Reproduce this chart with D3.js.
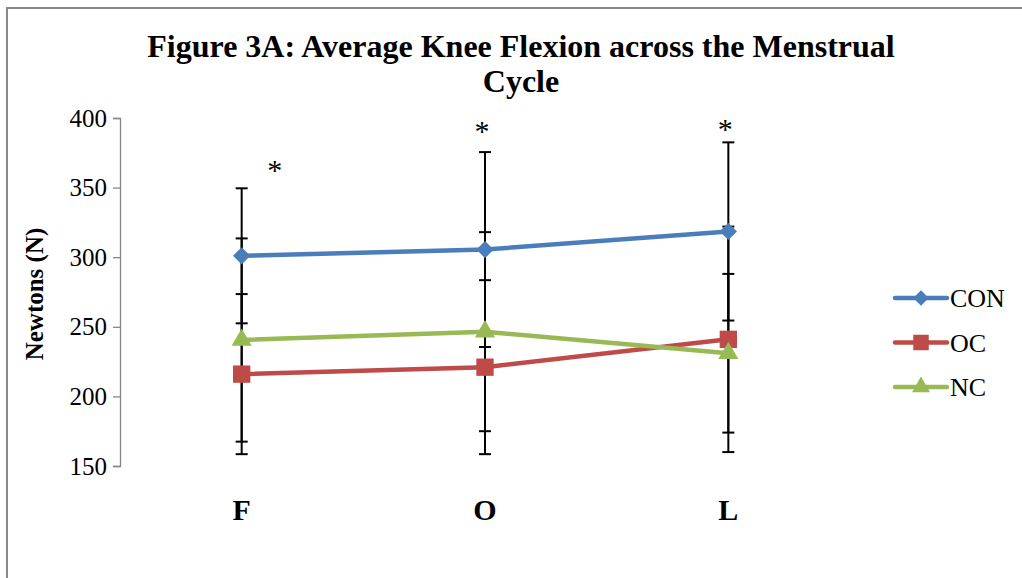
<!DOCTYPE html>
<html>
<head>
<meta charset="utf-8">
<script src="https://cdn.jsdelivr.net/npm/d3@7"></script>
<style>
  html, body { margin: 0; padding: 0; background: #fff; }
  svg { display: block; }
</style>
</head>
<body>
<svg id="chart" width="1022" height="578"></svg>
<script>
// Menstrual cycle phases
const phases = ["F", "O", "L"];
const seriesNames = ["CON", "OC", "NC"];

// Mean knee flexion force (N) per phase
const conValues = [301, 305.5, 318.5];
const ocValues = [216, 221, 241];
const ncValues = [240.5, 246.5, 231];

// Standard deviations for the error bars
const conErrors = [48.5, 70, 64];
const ocErrors = [57.5, 62.5, 81];
const ncErrors = [73, 71.5, 57];

// Phases marked significant
const significantPhases = ["F", "O", "L"];

const yTicks = [150, 200, 250, 300, 350, 400];

const colors = { CON: "#4a7ebb", OC: "#be4b48", NC: "#98b954" };
// Diamond is drawn as a square turned 45 degrees
const symbols = { CON: d3.symbolSquare, OC: d3.symbolSquare, NC: d3.symbolTriangle };
const symbolSizes = { CON: 150, OC: 300, NC: 175 };
const symbolRotate = { CON: 45, OC: 0, NC: 0 };

const series = [
  { name: "CON", values: conValues, errors: conErrors },
  { name: "OC", values: ocValues, errors: ocErrors },
  { name: "NC", values: ncValues, errors: ncErrors }
];

const svg = d3.select("#chart");
const serif = "'Liberation Serif', 'Times New Roman', serif";

// Outer chart frame
svg.append("rect")
  .attr("x", 7).attr("y", 8)
  .attr("width", 1030).attr("height", 590)
  .attr("fill", "#fff")
  .attr("stroke", "#898989")
  .attr("stroke-width", 2);

const plot = { left: 120, right: 850, top: 118, bottom: 466 };

const x = d3.scaleBand().domain(phases).range([plot.left, plot.right]);
const y = d3.scaleLinear().domain([150, 400]).range([plot.bottom, plot.top]);
const cx = p => x(p) + x.bandwidth() / 2;

// Title
const title = svg.append("text")
  .attr("x", 521).attr("y", 57)
  .attr("text-anchor", "middle")
  .attr("font-family", serif)
  .attr("font-weight", "bold")
  .attr("font-size", 32)
  .attr("fill", "#000");
title.append("tspan").attr("x", 521).text("Figure 3A: Average Knee Flexion across the Menstrual");
title.append("tspan").attr("x", 521).attr("dy", 35).text("Cycle");

// Y axis
const yAxis = svg.append("g")
  .attr("transform", `translate(${plot.left},0)`)
  .call(d3.axisLeft(y).tickValues(yTicks).tickSize(7).tickPadding(6).tickSizeOuter(7));
yAxis.select(".domain").attr("stroke", "#868686").attr("stroke-width", 1.3);
yAxis.selectAll(".tick line").attr("stroke", "#868686").attr("stroke-width", 1.3);
yAxis.selectAll(".tick text")
  .attr("font-family", serif)
  .attr("font-size", 25)
  .attr("fill", "#000");

// Y axis title
svg.append("text")
  .attr("transform", "translate(43,294) rotate(-90)")
  .attr("text-anchor", "middle")
  .attr("font-family", serif)
  .attr("font-weight", "bold")
  .attr("font-size", 25)
  .text("Newtons (N)");

// Category labels
svg.append("g").selectAll("text")
  .data(phases)
  .join("text")
  .attr("x", d => cx(d))
  .attr("y", 520)
  .attr("text-anchor", "middle")
  .attr("font-family", serif)
  .attr("font-weight", "bold")
  .attr("font-size", 30)
  .text(d => d);

// Error bars
const capHalf = 6;
const errG = svg.append("g").attr("stroke", "#000").attr("stroke-width", 2);
series.forEach(s => {
  phases.forEach((p, i) => {
    const hi = y(s.values[i] + s.errors[i]);
    const lo = y(s.values[i] - s.errors[i]);
    const xc = cx(p);
    errG.append("line").attr("x1", xc).attr("x2", xc).attr("y1", hi).attr("y2", lo);
    errG.append("line").attr("x1", xc - capHalf).attr("x2", xc + capHalf).attr("y1", hi).attr("y2", hi);
    errG.append("line").attr("x1", xc - capHalf).attr("x2", xc + capHalf).attr("y1", lo).attr("y2", lo);
  });
});

// Lines
const line = d3.line().x((d, i) => cx(phases[i])).y(d => y(d));
series.forEach(s => {
  svg.append("path")
    .datum(s.values)
    .attr("fill", "none")
    .attr("stroke", colors[s.name])
    .attr("stroke-width", 4.5)
    .attr("stroke-linejoin", "round")
    .attr("stroke-linecap", "round")
    .attr("d", line);
});

// Markers
series.forEach(s => {
  svg.append("g").selectAll("path")
    .data(s.values)
    .join("path")
    .attr("transform", (d, i) => `translate(${cx(phases[i])},${y(d)}) rotate(${symbolRotate[s.name]})`)
    .attr("d", d3.symbol().type(symbols[s.name]).size(symbolSizes[s.name]))
    .attr("fill", colors[s.name]);
});

// Significance asterisks
const starPos = { F: [33, 180], O: [-3, 141], L: [-3, 139] };
svg.append("g").selectAll("text")
  .data(significantPhases)
  .join("text")
  .attr("x", d => cx(d) + starPos[d][0])
  .attr("y", d => starPos[d][1])
  .attr("text-anchor", "middle")
  .attr("font-family", serif)
  .attr("font-size", 30)
  .text("*");

// Legend
const legend = svg.append("g");
seriesNames.forEach((name, i) => {
  const ly = 298 + i * 44.5;
  const g = legend.append("g").attr("transform", `translate(0,${ly})`);
  g.append("line")
    .attr("x1", 895).attr("x2", 947)
    .attr("stroke", colors[name]).attr("stroke-width", 4.5).attr("stroke-linecap", "round");
  g.append("path")
    .attr("transform", `translate(921,0) rotate(${symbolRotate[name]})`)
    .attr("d", d3.symbol().type(symbols[name]).size(symbolSizes[name] * 0.8))
    .attr("fill", colors[name]);
  g.append("text")
    .attr("x", 950).attr("y", 9)
    .attr("font-family", serif)
    .attr("font-size", 26)
    .text(name);
});
</script>
</body>
</html>
